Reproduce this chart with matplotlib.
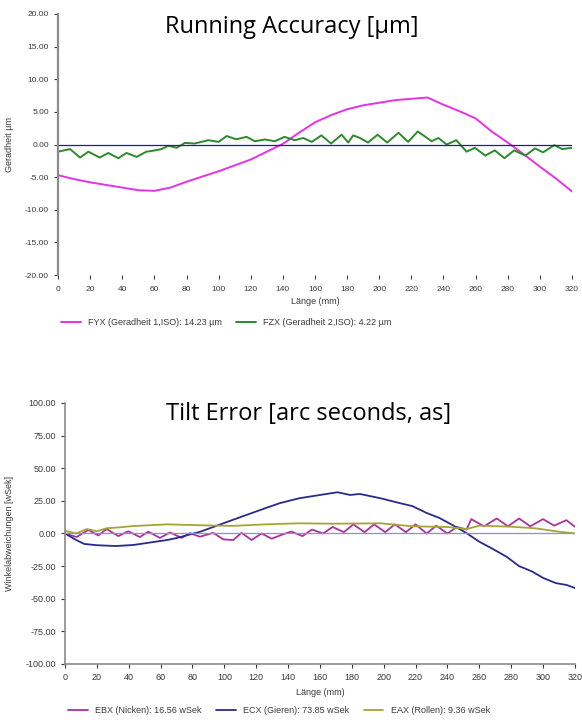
import numpy as np
import matplotlib
matplotlib.use("Agg")
import matplotlib.pyplot as plt

plt.rcParams['font.family'] = ['Liberation Sans', 'DejaVu Sans']
plt.rcParams['lines.solid_joinstyle'] = 'round'
plt.rcParams['lines.solid_capstyle'] = 'round'

# --- top chart: straightness (um) ---
fyx_x = [0, 10, 20, 30, 40, 50, 60, 70, 80, 90, 100, 110, 120, 130, 140, 150, 160,
         170, 180, 190, 200, 210, 220, 230, 240, 250, 260, 270, 280, 290, 300, 310, 320]
fyx_y = [-4.7, -5.3, -5.8, -6.2, -6.6, -7.0, -7.1, -6.6, -5.7, -4.9, -4.1, -3.2, -2.3,
         -1.1, 0.1, 1.8, 3.4, 4.5, 5.4, 6.0, 6.4, 6.8, 7.0, 7.2, 6.1, 5.1, 4.0, 2.0,
         0.3, -1.5, -3.4, -5.2, -7.2]

fzx_x = [0, 7.5, 13.7, 18.9, 26, 31.3, 37.5, 42.7, 49, 55, 58, 64.5, 68.7, 73.9, 79, 85,
         93.6, 100, 105, 111, 117.4, 122.6, 128.9, 135, 141, 147.5, 152.7, 158, 164, 170,
         176.6, 180.7, 183.8, 188, 193, 199, 205, 212, 218, 224, 232.7, 236.8, 242, 248,
         254.4, 259.6, 266, 272, 278, 284, 291, 297, 302, 309, 314, 320]
fzx_y = [-1.1, -0.7, -2.0, -1.1, -2.0, -1.3, -2.1, -1.3, -1.9, -1.1, -1.0, -0.7, -0.2,
         -0.5, 0.25, 0.15, 0.66, 0.4, 1.3, 0.8, 1.17, 0.5, 0.77, 0.5, 1.17, 0.66, 1.0,
         0.4, 1.4, 0.15, 1.5, 0.3, 1.4, 1.0, 0.3, 1.5, 0.3, 1.8, 0.4, 2.0, 0.5, 1.0, 0.0,
         0.66, -1.1, -0.5, -1.7, -0.9, -2.1, -0.9, -1.7, -0.6, -1.2, -0.1, -0.7, -0.5]

top_labels = ['FYX (Geradheit 1,ISO): 14.23 µm', 'FZX (Geradheit 2,ISO): 4.22 µm']

# --- bottom chart: angular deviation (arc seconds) ---
ebx_x = [0, 7.3, 14.6, 20.9, 26.1, 33.5, 39.7, 47, 52.3, 59.6, 65.9, 73.2, 78.4, 84.7,
         93, 99.3, 105.6, 110.8, 117.1, 123.4, 129.7, 136, 142, 149, 155, 162, 168, 175,
         181, 188, 194, 201, 207, 214, 220, 227, 233, 240, 246, 252, 255, 263, 271, 278,
         285, 292, 300, 307, 314.7, 320]
ebx_y = [0, -2.7, 2.7, -1.5, 3.4, -2.0, 1.7, -2.7, 1.4, -3.4, 0.8, -3.4, 0.3, -2.5,
         0.5, -4.5, -5.0, 0.5, -5.0, 0.0, -4.0, -1.0, 1.5, -2.0, 3.0, 0.0, 5.0, 1.0,
         7.0, 1.0, 7.0, 1.0, 7.0, 1.0, 7.0, 0.0, 6.0, 0.0, 5.0, 3.0, 11.0, 5.5, 11.5,
         5.5, 11.5, 5.5, 11.0, 6.0, 10.2, 5.2]

ecx_x = [0, 7, 12, 20, 32, 43, 53, 64, 70, 85, 105, 126, 135, 147, 160, 171, 179, 185,
         198, 210, 218, 227, 235, 243, 252, 260, 268, 277, 285, 293, 300, 308, 315, 320]
ecx_y = [0, -5, -8, -9, -9.6, -8.8, -7, -5, -3.5, 1.4, 10.3, 19.5, 23.3, 27, 29.5, 31.6,
         29.5, 30.3, 27, 23.3, 21, 15.7, 11.9, 6.6, 0.3, -6.3, -11.5, -17.7, -25, -29,
         -34, -38, -39.5, -41.8]

eax_x = [0, 7, 13.6, 20, 26, 34, 43, 64, 85, 105, 126, 147, 168, 198, 218, 240, 252,
         260, 280, 295, 310, 320]
eax_y = [2, 0, 3.4, 1.7, 4, 4.7, 5.7, 7, 6.3, 5.8, 7, 7.8, 7.5, 7.8, 5.5, 5.0, 3.4,
         6.0, 5.2, 4.0, 1.4, 0]

bottom_labels = ['EBX (Nicken): 16.56 wSek', 'ECX (Gieren): 73.85 wSek',
                 'EAX (Rollen): 9.36 wSek']

x_ticks = list(range(0, 321, 20))

fig = plt.figure(figsize=(5.82, 7.2), dpi=100)
fig.patch.set_facecolor('white')

tick_col = '#3a3a3a'
spine_col = '#8a8a8a'

# top axes
ax1 = fig.add_axes([0.0997, 0.618, 0.883, 0.3626])
ax1.plot(fyx_x, fyx_y, color='#e632e6', lw=1.4, label=top_labels[0])
ax1.plot(fzx_x, fzx_y, color='#2b8a2b', lw=1.4, label=top_labels[1])
ax1.plot([0, 320], [0, 0], color='#1c1c9c', lw=0.9)
ax1.set_xlim(0, 320)
ax1.set_ylim(-20, 20)
ax1.set_xticks(x_ticks)
ax1.set_yticks([-20, -15, -10, -5, 0, 5, 10, 15, 20])
ax1.set_yticklabels(['%.2f' % v for v in [-20, -15, -10, -5, 0, 5, 10, 15, 20]])
for s in ['top', 'right', 'bottom']:
    ax1.spines[s].set_visible(False)
ax1.spines['left'].set_color(spine_col)
ax1.spines['left'].set_linewidth(1.6)
ax1.tick_params(axis='both', labelsize=6, colors=tick_col, length=3, width=0.8)
ax1.tick_params(axis='x', pad=5)
ax1.set_xlabel('Länge (mm)', fontsize=6.5, color=tick_col, labelpad=3)
ax1.set_ylabel('Geradheit µm', fontsize=6.5, color=tick_col, labelpad=8)
ax1.legend(loc='upper left', bbox_to_anchor=(-0.01, -0.135), ncol=2, frameon=False,
           fontsize=6.5, handlelength=2.2, columnspacing=1.6, labelcolor=tick_col)
fig.text(0.502, 0.963, 'Running Accuracy [µm]', fontsize=17, family='Open Sans',
         ha='center', va='center')

# bottom axes
ax2 = fig.add_axes([0.1117, 0.0778, 0.876, 0.3625])
ax2.plot(ebx_x, ebx_y, color='#a8329e', lw=1.3, label=bottom_labels[0])
ax2.plot(ecx_x, ecx_y, color='#2a2a8c', lw=1.3, label=bottom_labels[1])
ax2.plot(eax_x, eax_y, color='#a5a532', lw=1.3, label=bottom_labels[2])
ax2.plot([0, 320], [0, 0], color='#8c8ce0', lw=0.9)
ax2.set_xlim(0, 320)
ax2.set_ylim(-100, 100)
ax2.set_xticks(x_ticks)
ax2.set_yticks([-100, -75, -50, -25, 0, 25, 50, 75, 100])
ax2.set_yticklabels(['%.2f' % v for v in [-100, -75, -50, -25, 0, 25, 50, 75, 100]])
for s in ['top', 'right']:
    ax2.spines[s].set_visible(False)
for s in ['left', 'bottom']:
    ax2.spines[s].set_color(spine_col)
    ax2.spines[s].set_linewidth(1.2)
ax2.tick_params(axis='both', labelsize=6.5, colors=tick_col, length=3, width=0.8)
ax2.set_xlabel('Länge (mm)', fontsize=6.5, color=tick_col, labelpad=4)
ax2.set_ylabel('Winkelabweichungen [wSek]', fontsize=6.5, color=tick_col, labelpad=8)
ax2.legend(loc='upper left', bbox_to_anchor=(-0.01, -0.13), ncol=3, frameon=False,
           fontsize=6.5, handlelength=2.2, columnspacing=1.6, labelcolor=tick_col)
fig.text(0.53, 0.425, 'Tilt Error [arc seconds, as]', fontsize=17, family='Open Sans',
         ha='center', va='center')

fig.savefig('out.png', dpi=100, facecolor='white')
